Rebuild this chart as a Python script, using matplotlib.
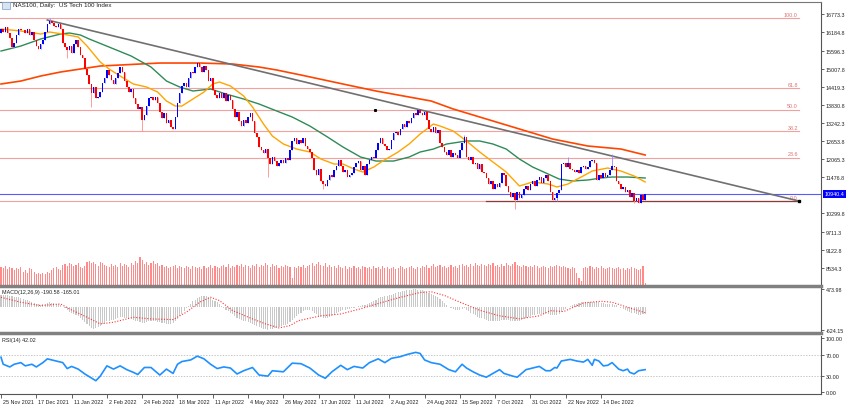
import matplotlib
matplotlib.use('Agg')
import matplotlib.pyplot as plt
import matplotlib.transforms as mtransforms

plt.rcParams['font.family'] = ['Liberation Sans', 'DejaVu Sans']

# ---- data ----
closes = [
    16300, 16200, 16350, 16150, 16000, 15700, 15850, 16100, 16300, 16250,
    16250, 16150, 16300, 16100, 16200, 15950, 15750, 15650, 15800, 15950,
    16200, 16450, 16550, 16480, 16400, 16350, 16450, 16300, 15850, 15700,
    15600, 15750, 15500, 15800, 15950, 15700, 15450, 15350, 15000, 14800,
    14500, 14200, 14400, 14050, 14100, 14250, 14550, 14700, 14950, 14800,
    14650, 14500, 14700, 14850, 15050, 14900, 14600, 14400, 14250, 14350,
    14050, 13850, 13700, 13750, 13350, 13500, 13800, 14050, 14100, 14000,
    14100, 13900, 13600, 13400, 13550, 13250, 13350, 13100, 13050, 13450,
    13900, 14200, 14450, 14550, 14400, 14700, 14900, 14850, 15050, 15200,
    15050, 14900, 15100, 14950, 14600, 14700, 14300, 14150, 14050, 14200,
    14050, 14200, 13950, 14150, 14000, 13700, 13450, 13600, 13300, 13150,
    13350, 13250, 13450, 13550, 13300, 12900, 12800, 12450, 12350, 12250,
    12400, 12100, 11900, 12150, 12000, 11850, 11950, 12050, 11950, 12100,
    12050, 12350, 12650, 12750, 12550, 12700, 12600, 12750, 12500, 12400,
    12300, 12100, 11700, 11550, 11750, 11350, 11250, 11200, 11400, 11550,
    11500, 11700, 11850, 12050, 11850, 11650, 11700, 11500, 11550, 11600,
    11800, 11950, 12000, 11700, 11850, 11550, 11900, 12050, 12150, 12100,
    12350, 12600, 12750, 12550, 12500, 12350, 12400, 12700, 12900, 12950,
    12850, 13050, 13200, 13100, 13300, 13250, 13400, 13550, 13500, 13650,
    13550, 13500, 13600, 13350, 13050, 12950, 13100, 12900, 13000, 12600,
    12450, 12300, 12200, 12350, 12150, 12250, 12200, 12100, 12350, 12600,
    12800, 12150, 12050, 12150, 11900, 11950, 11750, 11900, 11650, 11600,
    11450, 11250, 11350, 11100, 11250, 11150, 11300, 11600, 11550, 11200,
    11000, 10850, 10950, 10750, 11000, 10800, 10900, 11100, 11200, 11050,
    11250, 11350, 11200, 11400, 11500, 11300, 11450, 11550, 11350, 11000,
    10750, 10800, 10950, 11050, 11900, 11950, 11800, 11950, 11750, 11700,
    11650, 11700, 11600, 11800, 11850, 11750, 11800, 12000, 12050, 11950,
    11400, 11550, 11450, 11600, 11500, 11550, 11700, 11850, 11800, 11350,
    11250, 11100, 11150, 11000, 11050, 10850, 10950, 10700, 10800, 10650,
    10900, 10750, 10940,
]
first_open = 16150
wick_high = {22: 16644, 189: 13700, 210: 12850, 257: 12150, 277: 12230}
wick_low = {30: 15350, 41: 13760, 64: 12990, 121: 11500, 146: 11090,
            233: 10440, 252: 10700, 287: 10650}

volumes = [
    18, 17, 19, 16, 18, 17, 15, 17, 16, 18,
    14, 15, 13, 17, 16, 14, 12, 13, 12, 13,
    12, 14, 13, 15, 17, 18, 16, 15, 20, 21,
    19, 22, 21, 19, 20, 22, 18, 17, 19, 23,
    24, 22, 23, 21, 19, 23, 22, 20, 19, 18,
    21, 19, 20, 18, 22, 19, 21, 20, 18, 22,
    20, 24, 22, 28, 25, 21, 23, 20, 22, 24,
    21, 22, 19, 20, 18, 19, 17, 18, 19, 20,
    17, 19, 18, 17, 19, 18, 16, 19, 18, 17,
    18, 16, 19, 17, 18, 20, 17, 19, 18, 17,
    19, 20, 18, 21, 17, 19, 18, 20, 19, 21,
    18, 20, 19, 17, 20, 19, 21, 18, 20, 19,
    22, 20, 18, 21, 19, 20, 17, 19, 18, 20,
    19, 18, 8, 18, 17, 19, 18, 20, 17, 19,
    20, 22, 19, 21, 23, 20, 19, 22, 18, 20,
    18, 19, 17, 20, 18, 17, 19, 16, 18, 17,
    19, 17, 18, 16, 19, 18, 17, 18, 16, 19,
    17, 18, 16, 19, 17, 18, 16, 17, 18, 16,
    17, 19, 18, 16, 17, 18, 19, 17, 16, 18,
    17, 19, 18, 20, 17, 19, 21, 18, 19, 20,
    18, 19, 17, 18, 20, 18, 19, 17, 20, 21,
    19, 20, 18, 21, 19, 22, 20, 19, 21, 20,
    19, 21, 20, 22, 19, 20, 18, 21, 19, 22,
    20, 19, 21, 23, 20, 19, 18, 20, 19, 18,
    19, 18, 20, 19, 17, 18, 19, 18, 17, 19,
    18, 19, 20, 19, 18, 19, 18, 17, 16, 18,
    17, 13, 8, 5, 17, 18, 17, 19, 18, 16,
    18, 17, 19, 17, 16, 17, 18, 17, 16, 17,
    18, 16, 17, 15, 17, 16, 18, 17, 16, 15,
    16, 19, 3,
]

macd_hist = [
    300, 310, 320, 310, 290, 280, 270, 260, 250, 230,
    210, 190, 170, 150, 120, 100, 80, 60, 50, 60,
    80, 100, 110, 100, 90, 70, 60, 40, 0, -40,
    -100, -140, -180, -200, -220, -260, -300, -350, -420, -480,
    -530, -570, -600, -590, -560, -520, -480, -430, -400, -380,
    -370, -350, -330, -310, -290, -290, -300, -320, -330, -340,
    -360, -380, -400, -420, -440, -430, -410, -390, -380, -390,
    -400, -410, -420, -440, -450, -460, -470, -460, -440, -400,
    -330, -260, -190, -120, -50, 20, 80, 140, 190, 230,
    260, 280, 290, 280, 260, 230, 190, 150, 110, 60,
    20, -30, -80, -120, -160, -200, -250, -300, -340, -370,
    -390, -400, -410, -430, -460, -490, -520, -550, -580, -600,
    -610, -620, -610, -600, -590, -570, -550, -530, -510, -490,
    -460, -420, -360, -300, -250, -200, -160, -120, -100, -90,
    -100, -130, -170, -210, -250, -280, -300, -310, -300, -280,
    -250, -220, -180, -150, -120, -100, -80, -70, -60, -50,
    -30, -10, 10, 20, 30, 50, 70, 100, 130, 160,
    190, 220, 250, 270, 280, 290, 300, 320, 340, 360,
    380, 400, 420, 430, 440, 450, 460, 470, 470, 460,
    450, 440, 420, 400, 370, 340, 310, 280, 250, 200,
    150, 100, 50, 0, -40, -70, -90, -100, -90, -60,
    -50, -80, -120, -160, -200, -240, -270, -300, -320, -340,
    -360, -380, -390, -400, -400, -390, -380, -370, -360, -360,
    -370, -380, -390, -400, -390, -380, -360, -330, -300, -280,
    -260, -240, -220, -210, -200, -190, -190, -200, -210, -220,
    -230, -240, -230, -210, -150, -100, -60, -20, 10, 40,
    60, 80, 100, 110, 120, 130, 130, 135, 135, 130,
    120, 110, 100, 90, 80, 70, 70, 60, 50, 30,
    0, -30, -60, -90, -110, -140, -160, -180, -200, -220,
    -220, -210, -190,
]

signal_bars = [0, 9, 18, 27, 31, 39, 45, 51, 60, 68, 78, 84, 90, 95, 99, 105,
               114, 120, 126, 131, 135, 145, 154, 163, 172, 181, 190, 195, 201,
               208, 217, 226, 235, 244, 249, 255, 264, 272, 277, 284, 292]
signal_vals = [250, 117, 27, 72, -63, -288, -468, -423, -288, -333, -351, -153,
               117, 252, 162, -108, -333, -468, -576, -513, -378, -250, -200,
               -60, 100, 250, 380, 400, 300, 120, -100, -250, -330, -250, -110,
               -135, 99, 144, 117, -18, -165]

rsi_bars = [0, 1, 4, 6, 9, 11, 14, 16, 19, 21, 24, 28, 30, 32, 35, 38, 43, 45,
            48, 51, 54, 57, 60, 62, 65, 68, 72, 75, 78, 80, 82, 86, 89, 92, 95,
            98, 101, 104, 107, 110, 114, 117, 121, 123, 128, 130, 132, 136, 140,
            144, 147, 150, 154, 157, 160, 164, 167, 171, 174, 177, 181, 184, 188,
            190, 192, 195, 199, 203, 206, 209, 211, 214, 217, 220, 223, 226, 228,
            232, 234, 238, 241, 244, 247, 249, 251, 252, 254, 258, 261, 264, 266,
            268, 269, 271, 273, 275, 277, 280, 282, 284, 285, 287, 289, 292]
rsi_vals = [65, 52, 47, 52, 55, 49, 52, 47, 55, 62, 59, 55, 44, 48, 43, 34, 21.5,
            30, 49, 43, 49, 42, 37, 33, 46, 46, 32, 43, 35, 52, 57, 60, 67, 62, 52,
            44, 47, 45, 34, 40, 46, 32, 30, 40, 38, 46, 54, 53, 45, 32, 26, 38, 50,
            42, 48, 45, 55, 62, 55, 63, 66, 70, 74, 72, 60, 55, 52, 42, 38, 52, 45,
            38, 32, 28, 35, 42, 35, 30, 28, 42, 45, 48, 40, 40, 46, 45, 58, 61, 58,
            56, 61, 50, 61, 58, 49, 50, 55, 43, 40, 43, 37, 34, 40, 42.02]

ma_fast_bars = [0, 9, 18, 22, 28, 35, 39, 45, 49, 54, 60, 66, 71, 75, 79, 82, 87,
                92, 96, 99, 104, 110, 114, 119, 123, 128, 134, 140, 145, 151, 155,
                160, 164, 169, 173, 180, 185, 190, 196, 199, 205, 211, 217, 223,
                229, 235, 241, 248, 252, 257, 263, 268, 275, 281, 287, 292]
ma_fast_vals = [16296, 16231, 16133, 16198, 16133, 16036, 15743, 15223, 14995,
                14768, 14508, 14410, 14247, 13955, 13792, 13792, 14020, 14247,
                14508, 14573, 14443, 14118, 13760, 13207, 12817, 12557, 12394,
                12297, 12069, 11907, 11907, 11744, 11647, 11809, 12004, 12297,
                12557, 12882, 13207, 13142, 12980, 12655, 12297, 11972, 11647,
                11192, 11322, 11257, 11159, 11257, 11484, 11679, 11777, 11679,
                11517, 11322]

ma_mid_bars = [0, 9, 18, 27, 31, 36, 40, 49, 59, 68, 75, 81, 87, 95, 102, 110,
               117, 125, 132, 140, 148, 155, 163, 170, 178, 185, 190, 196, 202,
               211, 217, 223, 229, 235, 241, 248, 253, 259, 266, 272, 277, 284, 292]
ma_mid_vals = [15580, 15743, 15971, 16133, 16166, 16101, 15971, 15710, 15418,
               15060, 14605, 14410, 14280, 14345, 14182, 14020, 13857, 13630,
               13435, 13142, 12785, 12460, 12134, 12004, 12004, 12134, 12297,
               12394, 12557, 12655, 12655, 12557, 12394, 12069, 11809, 11582,
               11419, 11354, 11387, 11452, 11484, 11484, 11452]

ma_slow_bars = [0, 9, 18, 27, 36, 45, 54, 63, 72, 81, 90, 105, 117, 125, 136,
                155, 170, 185, 195, 205, 220, 235, 250, 266, 281, 292]
ma_slow_vals = [14508, 14605, 14768, 14898, 14995, 15093, 15125, 15158, 15190,
                15190, 15190, 15158, 15060, 14963, 14800, 14508, 14280, 14085,
                13955, 13695, 13370, 13045, 12720, 12492, 12394, 12200]

fib_low = 10713
fib_high = 16644
fib_ratios = [0.0, 0.236, 0.382, 0.5, 0.618, 1.0]
fib_labels = ['0.0', '23.6', '38.2', '50.0', '61.8', '100.0']

trend_bars = [21, 361.7]
trend_vals = [16588, 10704]
last_price = 10940.4

price_ticks = [16773.3, 16184.8, 15596.3, 15007.8, 14419.3, 13830.8, 13242.3,
               12653.8, 12065.3, 11476.8, 10299.8, 9711.3, 9122.8, 8534.3]
date_labels = ['25 Nov 2021', '17 Dec 2021', '11 Jan 2022', '2 Feb 2022',
               '24 Feb 2022', '18 Mar 2022', '11 Apr 2022', '4 May 2022',
               '26 May 2022', '17 Jun 2022', '11 Jul 2022', '2 Aug 2022',
               '24 Aug 2022', '15 Sep 2022', '7 Oct 2022', '31 Oct 2022',
               '22 Nov 2022', '14 Dec 2022']

# ---- layout ----
W, H = 848, 406
fig = plt.figure(figsize=(W / 100, H / 100), dpi=100)
fs = 3.9
axw = 821 / W


def pane(y0, y1):
    return fig.add_axes([0, 1 - y1 / H, axw, (y1 - y0) / H])


def style_right(a):
    a.yaxis.tick_right()
    a.tick_params(axis='y', direction='out', length=2, width=0.5,
                  labelsize=fs, pad=1.5, colors='#222222')


ax = pane(3, 287)
ax_m = pane(289, 334)
ax_r = pane(337, 395)

# volume, drawn at the bottom of the price pane (behind the candles)
ax_v = ax.twinx()

xmin, xmax = -0.45, 371.7
for a in (ax, ax_m, ax_r):
    a.set_xlim(xmin, xmax)
    a.set_xticks([])
    style_right(a)
    a.spines['left'].set_visible(False)
    a.spines['right'].set_color('#555555')
    a.spines['right'].set_linewidth(0.8)
    a.spines['top'].set_visible(False)

ax.spines['top'].set_visible(True)
ax.spines['top'].set_color('#777777')
ax.spines['top'].set_linewidth(0.8)
for a in (ax, ax_m):
    a.spines['bottom'].set_color('#808080')
    a.spines['bottom'].set_linewidth(2.5)
ax_r.spines['bottom'].set_color('#555555')
ax_r.spines['bottom'].set_linewidth(0.8)

ax_v.set_xlim(xmin, xmax)
ax_v.set_ylim(0, max(volumes) * 284 / 29)
ax_v.bar(range(len(volumes)), volumes, width=0.5, color='#ff8a8a', linewidth=0)
ax_v.axis('off')
ax.set_zorder(ax_v.get_zorder() + 1)
ax.patch.set_visible(False)

# ---- main pane ----
ax.set_ylim(7941, 17174)
ax.set_yticks(price_ticks)
ax.set_yticklabels(['%.1f' % v for v in price_ticks])

for r, lab in zip(fib_ratios, fib_labels):
    lvl = fib_low + r * (fib_high - fib_low)
    ax.plot([xmin, 361.7], [lvl, lvl], color='#f2a0a0', lw=0.8, zorder=1)
    ax.text(361.2, lvl + 40, lab, ha='right', va='bottom', fontsize=fs,
            color='#e07070', zorder=2)
ax.plot([220, 361.7], [fib_low, fib_low], color='#8b3a3a', lw=0.9, zorder=2)

ax.axhline(last_price, color='#5a5aff', lw=0.8, zorder=1)

ax.plot(ma_slow_bars, ma_slow_vals, color='#ff4500', lw=1.2, zorder=3)
ax.plot(ma_mid_bars, ma_mid_vals, color='#2e8b57', lw=1.0, zorder=3)
ax.plot(ma_fast_bars, ma_fast_vals, color='#ffa500', lw=1.0, zorder=3)
ax.plot(trend_bars, trend_vals, color='#707070', lw=1.2, zorder=3)
ax.plot(trend_bars[-1], trend_vals[-1], marker='s', ms=1.6, color='black', zorder=4)
ax.plot(169.5, 13662, marker='s', ms=1.2, color='black', zorder=4)

# candles
for i, c in enumerate(closes):
    o = closes[i - 1] if i > 0 else first_open
    up = c >= o
    body_col = '#0000ff' if up else '#ff0000'
    wick_col = '#8c8cff' if up else '#ff8c8c'
    hi = wick_high.get(i, max(o, c))
    lo = wick_low.get(i, min(o, c))
    ax.vlines(i, lo, hi, color=wick_col, lw=0.6, zorder=4)
    ax.bar(i, max(abs(c - o), 25), bottom=min(o, c), width=0.7,
           color=body_col, linewidth=0, zorder=5)

trans = mtransforms.blended_transform_factory(ax.transAxes, ax.transData)
ax.text(1.004, last_price, '%.1f' % last_price, transform=trans, ha='left',
        va='center', fontsize=fs, color='white', zorder=10, clip_on=False,
        bbox=dict(boxstyle='square,pad=0.3', fc='#0000ff', ec='none'))

fig.text(13 / W, 1 - 6 / H, 'NAS100, Daily:  US Tech 100 Index', fontsize=4.5,
         color='#222222', va='center', ha='left')
fig.patches.append(plt.Rectangle((2 / W, 1 - 10 / H), 8 / W, 7 / H,
                                 transform=fig.transFigure, fc='#d9e4f2',
                                 ec='#7f9fc8', lw=0.5))

# ---- MACD pane ----
ax_m.set_ylim(-713, 501)
ax_m.set_yticks([473.98, -624.15])
ax_m.set_yticklabels(['473.98', '-624.15'])
ax_m.bar(range(len(macd_hist)), macd_hist, width=0.5, color='#c8c8c8', linewidth=0)
ax_m.plot(signal_bars, signal_vals, color='#ff3333', lw=0.8, ls=(0, (1, 1.5)))
fig.text(2 / W, 1 - 293 / H, 'MACD(12,26,9) -190.58 -165.01', fontsize=fs,
         color='#222222', va='center', ha='left')

# ---- RSI pane ----
ax_r.set_ylim(-3.1, 104.3)
ax_r.set_yticks([100, 70, 30, 0])
ax_r.set_yticklabels(['100.00', '70.00', '30.00', '0.00'])
for lvl in (70, 30):
    ax_r.axhline(lvl, color='#b0b0b0', lw=0.5, ls=(0, (2, 2)))
ax_r.plot(rsi_bars, rsi_vals, color='#1e90ff', lw=1.2)
fig.text(2 / W, 1 - 341 / H, 'RSI(14) 42.02', fontsize=fs, color='#222222',
         va='center', ha='left')

# date axis
date_pos = [16 * k for k in range(len(date_labels))]
ax_r.set_xticks(date_pos)
ax_r.set_xticklabels(date_labels)
ax_r.tick_params(axis='x', direction='out', length=3, width=0.5, labelsize=fs,
                 pad=0.5, colors='#222222')
offset = mtransforms.ScaledTranslation(2 / 100, 0, fig.dpi_scale_trans)
for lab in ax_r.get_xticklabels():
    lab.set_horizontalalignment('left')
    lab.set_transform(lab.get_transform() + offset)

fig.savefig('out.png', dpi=100)
